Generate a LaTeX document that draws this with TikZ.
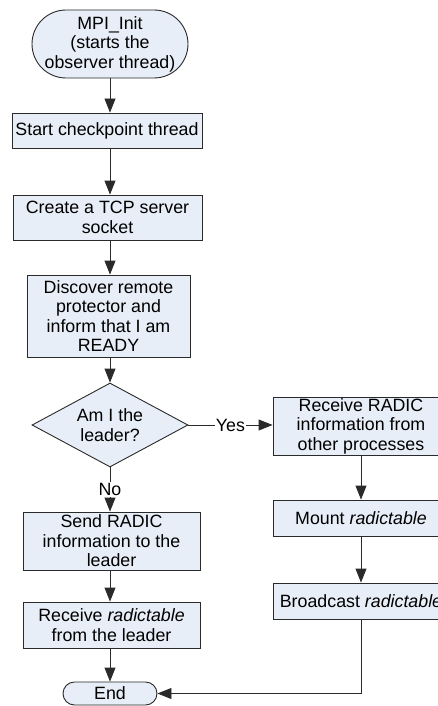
\documentclass[tikz,border=0pt]{standalone}
\usepackage{fontspec}
\setmainfont{Liberation Sans}
\usetikzlibrary{shapes.geometric,arrows.meta}
\definecolor{boxfill}{HTML}{E8EEF7}
\definecolor{edge}{HTML}{2A2A2A}
\tikzset{
  every node/.style={font=\fontsize{17.8}{19.5}\selectfont, align=center},
  proc/.style={draw=edge, fill=boxfill, line width=0.9pt, inner sep=0pt},
  term/.style={draw=edge, fill=boxfill, line width=0.9pt, inner sep=0pt, rounded corners=#1},
  decision/.style={draw=edge, fill=boxfill, line width=0.9pt, diamond, inner sep=0pt,
    shape aspect=1.857, minimum width=156pt, minimum height=84pt},
  flow/.style={draw=edge, line width=0.9pt, -{Triangle[length=14pt,width=11pt]}},
  tag/.style={fill=white, inner sep=1pt},
}
\begin{document}
\begin{tikzpicture}[x=1pt, y=-1pt]
\clip (0,0) rectangle (438,706);
\fill[white] (0,0) rectangle (438,706);

% left column
\node[term=34pt, minimum width=156pt, minimum height=68pt] (init) at (110,44)
  {MPI\_Init\\(starts the\\observer thread)};
\node[proc, minimum width=190pt, minimum height=35pt] (start) at (107,130.5)
  {Start checkpoint thread};
\node[proc, minimum width=189pt, minimum height=45pt] (tcp) at (107.5,217.5)
  {Create a TCP server\\socket};
\node[proc, minimum width=163pt, minimum height=82pt] (disc) at (108.5,316)
  {Discover remote\\protector and\\inform that I am\\READY};
\node[decision] (dec) at (110,425) {Am I the\\leader?};
\node[proc, minimum width=177pt, minimum height=58pt] (send) at (111.5,541)
  {Send RADIC\\information to the\\leader};
\node[proc, minimum width=177pt, minimum height=46pt] (recv) at (111.5,625)
  {Receive \textit{radictable}\\from the leader};
\node[term=11.5pt, minimum width=94pt, minimum height=23pt] (end) at (110,693.5) {End};

% right column
\node[proc, minimum width=176pt, minimum height=58pt] (gather) at (361,426)
  {Receive RADIC\\information from\\other processes};
\node[proc, minimum width=176pt, minimum height=36pt] (mount) at (361,518)
  {Mount \textit{radictable}};
\node[proc, minimum width=176pt, minimum height=36pt] (bcast) at (361,601)
  {Broadcast \textit{radictable}};

% connectors
\draw[flow] (init.south) -- (init.south |- start.north);
\draw[flow] (init.south |- start.south) -- (init.south |- tcp.north);
\draw[flow] (init.south |- tcp.south) -- (init.south |- disc.north);
\draw[flow] (init.south |- disc.south) -- (dec.north);
\draw[flow] (dec.south) -- node[tag] {No} (dec.south |- send.north);
\draw[flow] (dec.south |- send.south) -- (dec.south |- recv.north);
\draw[flow] (dec.south |- recv.south) -- (end.north);
\draw[flow] (dec.east) -- node[tag] {Yes} (gather.west |- dec.east);
\draw[flow] (gather.south) -- (mount.north);
\draw[flow] (mount.south) -- (bcast.north);
\draw[flow] (bcast.south) |- (end.east);
\end{tikzpicture}
\end{document}
